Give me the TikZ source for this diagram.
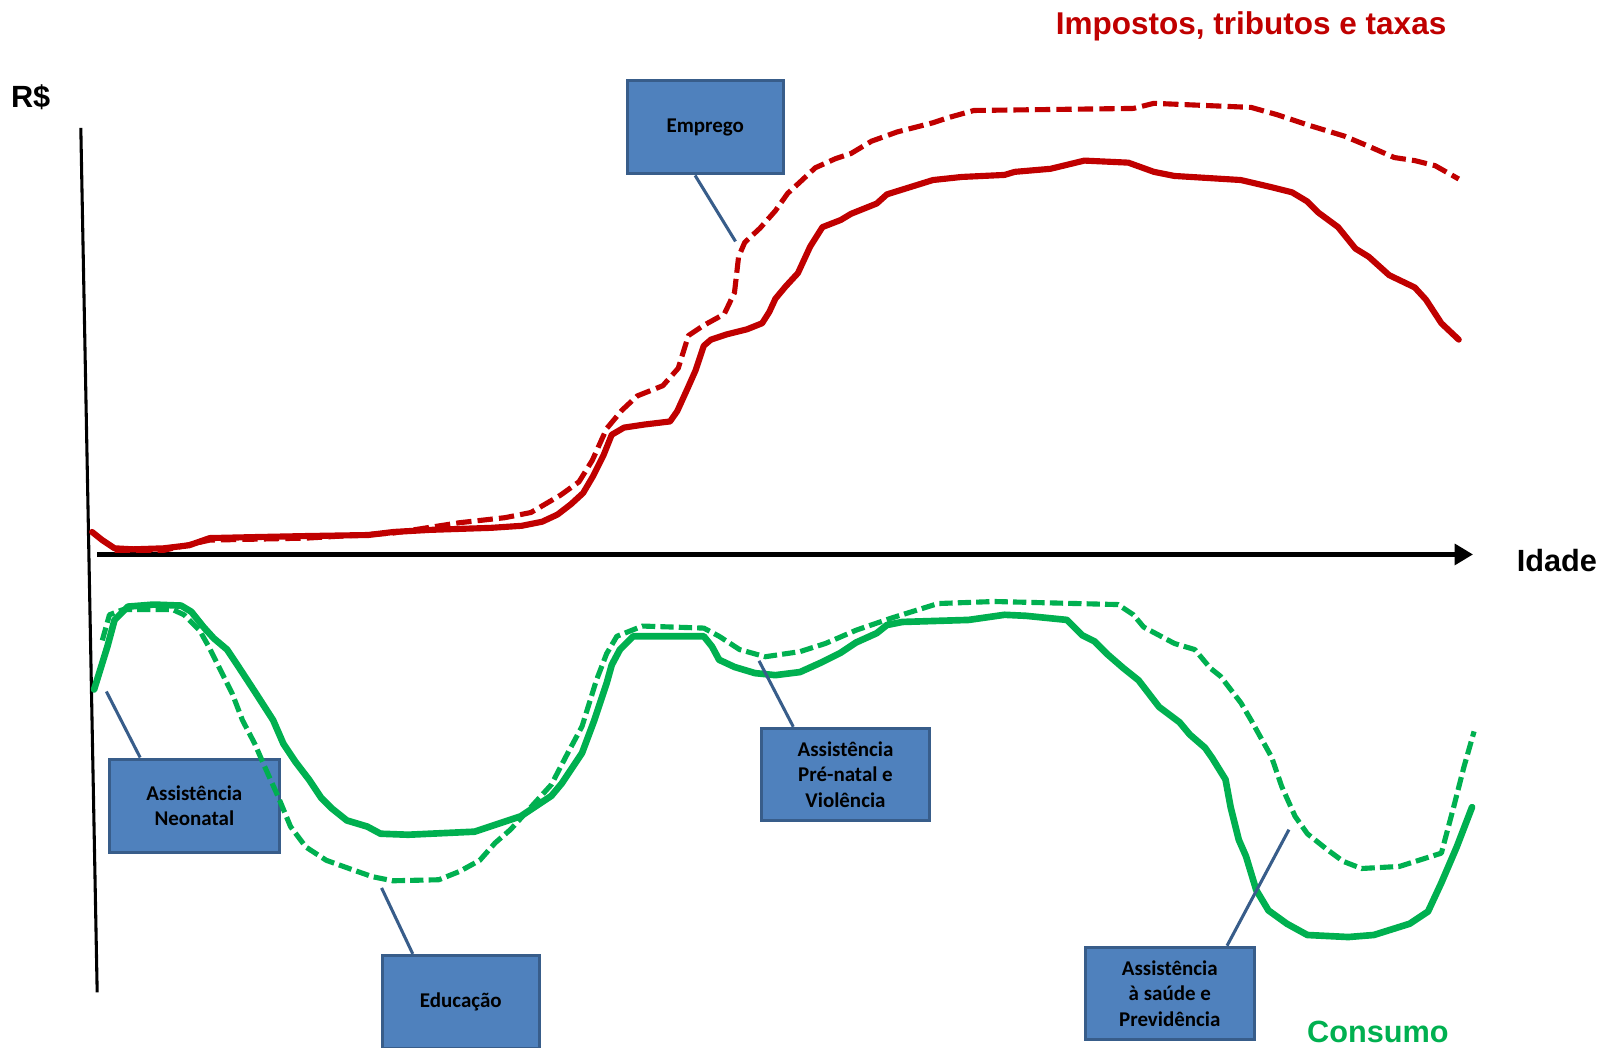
\documentclass[tikz,border=0pt]{standalone}
\usepackage{fontspec}
\setmainfont{Liberation Sans}
\newfontfamily\boxfont{Carlito}
\usetikzlibrary{calc,arrows.meta}
\definecolor{taxred}{HTML}{C00000}
\definecolor{consgreen}{HTML}{00B050}
\definecolor{boxfill}{HTML}{4F81BD}
\definecolor{boxedge}{HTML}{385D8A}
\tikzset{
  biglabel/.style={font=\fontsize{30}{36}\selectfont\bfseries, inner sep=0pt, anchor=base},
  infobox/.style={draw=boxedge, line width=3pt, fill=boxfill, align=center,
    font=\boxfont\fontsize{20.5}{25}\selectfont\bfseries, inner sep=0pt},
  conn/.style={draw=boxedge, line width=3pt},
  axisline/.style={black, line width=3pt},
  redsolid/.style={taxred, line width=6pt, line join=round, line cap=round},
  reddash/.style={taxred, line width=5pt, line join=round, dash pattern=on 15pt off 6pt},
  greensolid/.style={consgreen, line width=6.5pt, line join=round, line cap=round},
  greendash/.style={consgreen, line width=5pt, line join=round, dash pattern=on 13pt off 5pt},
}
\begin{document}
\begin{tikzpicture}[x=1pt,y=-1pt]
\useasboundingbox (0,0) rectangle (1568,1024);
\fill[white] (0,0) rectangle (1568,1024);

% axes
\coordinate (ytop) at (79,125);
\coordinate (ybot) at (95,970);
\coordinate (xo) at (95,542);
\coordinate (xend) at (1440,542);
\draw[axisline] (ytop) -- (ybot);
\draw[black, line width=5pt, -{Triangle[length=18pt,width=20pt]}] (xo) -- (xend);

% axis and series labels
\node[biglabel] (rs) at (30,105) {R\$};
\node[biglabel] (idade) at (1522,559) {Idade};
\node[biglabel, text=taxred, font=\fontsize{30.8}{36}\selectfont\bfseries] (impostos) at (1223,34) {Impostos, tributos e taxas};
\node[biglabel, text=consgreen] (consumo) at (1347,1019) {Consumo};

% boxes
\node[infobox, minimum width=153pt, minimum height=91pt] (emp) at (689.5,124.5) {Emprego};
\node[infobox, minimum width=166pt, minimum height=91pt] (neo) at (190,787.5) {Assistência\\Neonatal};
\node[infobox, minimum width=153pt, minimum height=91pt] (edu) at (450.5,979.5) {Educação};
\node[infobox, minimum width=165pt, minimum height=90pt] (pre) at (826.5,757) {Assistência\\Pré-natal e\\Violência};
\node[infobox, minimum width=165pt, minimum height=90pt] (sau) at (1143.5,971) {Assistência\\à saúde e\\Previdência};

% red: taxes paid
\draw[reddash] plot coordinates {(112,538) (160,538) (205,528) (300,526) (385,521) (449,511) (494,506) (519,501) (548,484) (566,471) (579,450) (593,419) (608,401) (623,387) (648,377) (663,360) (673,328) (688,318) (708,307) (718,286) (722,251) (728,237) (743,223) (758,206) (770,189) (782,178) (797,164) (817,155) (832,150) (852,138) (877,129) (912,120) (927,115) (952,108) (1108,106) (1128,101) (1223,105) (1248,112) (1278,122) (1314,133) (1338,143) (1363,154) (1383,157) (1403,162) (1426,175)};
\draw[redsolid] plot coordinates {(90,520) (100,528) (112,536) (130,537) (160,536) (185,533) (205,526) (250,525) (300,524) (360,523) (385,520) (420,518) (480,516) (510,514) (530,510) (545,503) (558,493) (570,482) (580,465) (590,445) (598,425) (610,418) (630,415) (655,412) (662,402) (672,380) (680,362) (688,338) (695,332) (710,327) (730,322) (745,316) (752,305) (758,292) (768,280) (780,267) (792,241) (804,222) (822,215) (832,209) (857,199) (867,190) (912,176) (940,173) (982,171) (992,168) (1027,165) (1060,157) (1103,159) (1128,168) (1148,172) (1213,176) (1243,183) (1263,188) (1278,197) (1289,208) (1308,222) (1325,243) (1338,251) (1358,269) (1383,281) (1394,293) (1409,316) (1426,332)};

% green: consumption
\draw[greendash] plot coordinates {(100,626) (107,601) (120,596) (169,596) (180,601) (195,616) (204,632) (214,652) (227,678) (237,704) (249,727) (259,750) (272,779) (284,808) (299,828) (319,841) (344,850) (364,857) (384,861) (429,860) (449,852) (469,841) (484,824) (499,811) (519,789) (539,767) (553,740) (569,710) (583,665) (593,639) (603,622) (628,612) (688,614) (703,622) (723,635) (748,642) (782,637) (807,629) (837,616) (872,604) (917,590) (972,588) (1093,591) (1108,601) (1118,613) (1148,629) (1168,635) (1183,653) (1193,661) (1213,687) (1223,704) (1243,740) (1253,769) (1266,798) (1278,815) (1298,831) (1313,842) (1331,849) (1368,847) (1409,834) (1421,789) (1431,750) (1441,715)};
\draw[greensolid] plot coordinates {(92,674) (105,632) (112,606) (125,593) (150,591) (177,592) (187,598) (199,613) (209,624) (222,635) (232,650) (249,676) (267,704) (277,727) (289,745) (302,762) (314,780) (324,790) (339,802) (359,808) (372,815) (399,816) (464,813) (479,808) (509,798) (539,778) (549,766) (569,736) (581,704) (593,668) (598,650) (606,635) (619,622) (688,622) (696,632) (703,645) (718,652) (738,658) (758,660) (782,657) (802,648) (822,638) (837,628) (857,619) (867,611) (882,608) (947,606) (982,601) (1003,602) (1043,606) (1058,621) (1070,627) (1083,640) (1098,653) (1113,665) (1123,678) (1133,691) (1153,706) (1163,718) (1178,731) (1185,741) (1198,762) (1203,789) (1211,821) (1218,837) (1228,870) (1240,890) (1258,903) (1278,914) (1318,916) (1343,914) (1378,903) (1396,891) (1409,863) (1424,828) (1439,789)};

% callout lines
\coordinate (empP) at (719,236);
\coordinate (neoP) at (104,676);
\coordinate (eduP) at (373,868);
\coordinate (preP) at (742,646);
\coordinate (sauP) at (1260,811);
\draw[conn] ($(emp.south)+(-10,0)$) -- (empP);
\draw[conn] ($(neo.north)+(-53,0)$) -- (neoP);
\draw[conn] ($(edu.north)+(-47,0)$) -- (eduP);
\draw[conn] ($(pre.north)+(-51,0)$) -- (preP);
\draw[conn] ($(sau.north)+(56,0)$) -- (sauP);
\end{tikzpicture}
\end{document}
